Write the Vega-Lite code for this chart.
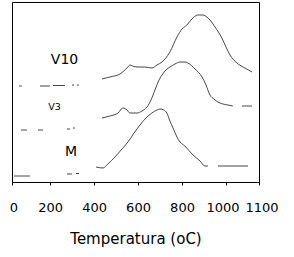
{
  "$schema": "https://vega.github.io/schema/vega-lite/v6.json",
  "width": 247,
  "height": 180,
  "autosize": "none",
  "padding": {"left": 12, "top": 2, "right": 35, "bottom": 75},
  "background": "white",
  "config": {"view": {"stroke": "black", "strokeWidth": 1}, "font": "DejaVu Sans"},
  "datasets": {
    "curves": [
      {"s": "V10", "seg": "V10a", "T": 59, "v": 96}, {"s": "V10", "seg": "V10a", "T": 72, "v": 96},
      {"s": "V10", "seg": "V10b", "T": 154, "v": 96}, {"s": "V10", "seg": "V10b", "T": 200, "v": 96},
      {"s": "V10", "seg": "V10c", "T": 213, "v": 96.5}, {"s": "V10", "seg": "V10c", "T": 268, "v": 96.5},
      {"s": "V10", "seg": "V10d", "T": 300, "v": 97}, {"s": "V10", "seg": "V10d", "T": 309, "v": 97},
      {"s": "V10", "seg": "V10e", "T": 322, "v": 97}, {"s": "V10", "seg": "V10e", "T": 332, "v": 97},
      {"s": "V10", "seg": "V10f", "T": 436, "v": 103},
      {"s": "V10", "seg": "V10f", "T": 472, "v": 105},
      {"s": "V10", "seg": "V10f", "T": 518, "v": 108},
      {"s": "V10", "seg": "V10f", "T": 554, "v": 115},
      {"s": "V10", "seg": "V10f", "T": 563, "v": 117},
      {"s": "V10", "seg": "V10f", "T": 581, "v": 115.5},
      {"s": "V10", "seg": "V10f", "T": 600, "v": 115},
      {"s": "V10", "seg": "V10f", "T": 631, "v": 115},
      {"s": "V10", "seg": "V10f", "T": 663, "v": 114},
      {"s": "V10", "seg": "V10f", "T": 686, "v": 117},
      {"s": "V10", "seg": "V10f", "T": 709, "v": 120},
      {"s": "V10", "seg": "V10f", "T": 745, "v": 130},
      {"s": "V10", "seg": "V10f", "T": 777, "v": 145},
      {"s": "V10", "seg": "V10f", "T": 800, "v": 153},
      {"s": "V10", "seg": "V10f", "T": 822, "v": 157},
      {"s": "V10", "seg": "V10f", "T": 845, "v": 163},
      {"s": "V10", "seg": "V10f", "T": 872, "v": 167},
      {"s": "V10", "seg": "V10f", "T": 895, "v": 167},
      {"s": "V10", "seg": "V10f", "T": 913, "v": 165},
      {"s": "V10", "seg": "V10f", "T": 931, "v": 161},
      {"s": "V10", "seg": "V10f", "T": 950, "v": 155},
      {"s": "V10", "seg": "V10f", "T": 981, "v": 144},
      {"s": "V10", "seg": "V10f", "T": 1000, "v": 135},
      {"s": "V10", "seg": "V10f", "T": 1018, "v": 127},
      {"s": "V10", "seg": "V10f", "T": 1050, "v": 119},
      {"s": "V10", "seg": "V10f", "T": 1086, "v": 114},
      {"s": "V10", "seg": "V10f", "T": 1118, "v": 110},
      {"s": "V3", "seg": "V3a", "T": 68, "v": 52}, {"s": "V3", "seg": "V3a", "T": 95, "v": 52},
      {"s": "V3", "seg": "V3b", "T": 145, "v": 52}, {"s": "V3", "seg": "V3b", "T": 168, "v": 52},
      {"s": "V3", "seg": "V3c", "T": 277, "v": 53}, {"s": "V3", "seg": "V3c", "T": 291, "v": 53},
      {"s": "V3", "seg": "V3d", "T": 304, "v": 54}, {"s": "V3", "seg": "V3d", "T": 313, "v": 54},
      {"s": "V3", "seg": "V3e", "T": 436, "v": 64},
      {"s": "V3", "seg": "V3e", "T": 472, "v": 66},
      {"s": "V3", "seg": "V3e", "T": 509, "v": 69},
      {"s": "V3", "seg": "V3e", "T": 531, "v": 74},
      {"s": "V3", "seg": "V3e", "T": 550, "v": 72},
      {"s": "V3", "seg": "V3e", "T": 563, "v": 69},
      {"s": "V3", "seg": "V3e", "T": 595, "v": 69},
      {"s": "V3", "seg": "V3e", "T": 618, "v": 71},
      {"s": "V3", "seg": "V3e", "T": 641, "v": 75},
      {"s": "V3", "seg": "V3e", "T": 659, "v": 82},
      {"s": "V3", "seg": "V3e", "T": 677, "v": 92},
      {"s": "V3", "seg": "V3e", "T": 691, "v": 100},
      {"s": "V3", "seg": "V3e", "T": 709, "v": 107},
      {"s": "V3", "seg": "V3e", "T": 727, "v": 112},
      {"s": "V3", "seg": "V3e", "T": 745, "v": 115},
      {"s": "V3", "seg": "V3e", "T": 768, "v": 118},
      {"s": "V3", "seg": "V3e", "T": 791, "v": 120},
      {"s": "V3", "seg": "V3e", "T": 813, "v": 120},
      {"s": "V3", "seg": "V3e", "T": 827, "v": 119},
      {"s": "V3", "seg": "V3e", "T": 859, "v": 113},
      {"s": "V3", "seg": "V3e", "T": 891, "v": 105},
      {"s": "V3", "seg": "V3e", "T": 909, "v": 97},
      {"s": "V3", "seg": "V3e", "T": 927, "v": 87},
      {"s": "V3", "seg": "V3e", "T": 945, "v": 83},
      {"s": "V3", "seg": "V3e", "T": 963, "v": 80},
      {"s": "V3", "seg": "V3e", "T": 986, "v": 78},
      {"s": "V3", "seg": "V3e", "T": 1009, "v": 77},
      {"s": "V3", "seg": "V3e", "T": 1031, "v": 76},
      {"s": "V3", "seg": "V3f", "T": 1072, "v": 76}, {"s": "V3", "seg": "V3f", "T": 1118, "v": 76},
      {"s": "M", "seg": "Ma", "T": 36, "v": 6}, {"s": "M", "seg": "Ma", "T": 109, "v": 6},
      {"s": "M", "seg": "Mb", "T": 277, "v": 8}, {"s": "M", "seg": "Mb", "T": 300, "v": 8},
      {"s": "M", "seg": "Mc", "T": 318, "v": 8.5}, {"s": "M", "seg": "Mc", "T": 332, "v": 8.5},
      {"s": "M", "seg": "Md", "T": 409, "v": 15},
      {"s": "M", "seg": "Md", "T": 441, "v": 14},
      {"s": "M", "seg": "Md", "T": 463, "v": 18},
      {"s": "M", "seg": "Md", "T": 495, "v": 25},
      {"s": "M", "seg": "Md", "T": 527, "v": 33},
      {"s": "M", "seg": "Md", "T": 554, "v": 40},
      {"s": "M", "seg": "Md", "T": 582, "v": 49},
      {"s": "M", "seg": "Md", "T": 609, "v": 57},
      {"s": "M", "seg": "Md", "T": 636, "v": 64},
      {"s": "M", "seg": "Md", "T": 663, "v": 69},
      {"s": "M", "seg": "Md", "T": 686, "v": 72},
      {"s": "M", "seg": "Md", "T": 700, "v": 73},
      {"s": "M", "seg": "Md", "T": 718, "v": 72},
      {"s": "M", "seg": "Md", "T": 731, "v": 69},
      {"s": "M", "seg": "Md", "T": 745, "v": 61},
      {"s": "M", "seg": "Md", "T": 759, "v": 54},
      {"s": "M", "seg": "Md", "T": 777, "v": 45},
      {"s": "M", "seg": "Md", "T": 791, "v": 40},
      {"s": "M", "seg": "Md", "T": 813, "v": 36},
      {"s": "M", "seg": "Md", "T": 850, "v": 27},
      {"s": "M", "seg": "Md", "T": 882, "v": 21},
      {"s": "M", "seg": "Md", "T": 904, "v": 16},
      {"s": "M", "seg": "Md", "T": 918, "v": 16},
      {"s": "M", "seg": "Me", "T": 963, "v": 16}, {"s": "M", "seg": "Me", "T": 1100, "v": 16}
    ],
    "labels": [
      {"label": "V10", "T": 266, "v": 122, "size": 14},
      {"label": "V3", "T": 220, "v": 75.5, "size": 9.5},
      {"label": "M", "T": 295, "v": 30, "size": 14}
    ]
  },
  "layer": [
    {
      "data": {"name": "curves"},
      "mark": {"type": "line", "color": "#333333", "strokeWidth": 0.9, "interpolate": "monotone"},
      "encoding": {
        "x": {
          "field": "T", "type": "quantitative",
          "scale": {"domain": [27, 1150], "nice": false, "zero": false},
          "axis": {
            "values": [27, 200, 400, 600, 800, 1000, 1150],
            "labelExpr": "datum.value < 100 ? '0' : (datum.value > 1100 ? '1100' : datum.label)",
            "title": "Temperatura (oC)",
            "titleFont": "DejaVu Sans", "titleFontSize": 15, "titleFontWeight": "normal", "titleColor": "black",
            "titlePadding": 17,
            "labelFont": "DejaVu Sans", "labelFontSize": 13, "labelColor": "black",
            "labelPadding": 16, "labelFlush": false, "labelOverlap": false,
            "labelOffset": {"condition": [
              {"test": "datum.value == 1000", "value": -3.5},
              {"test": "datum.value == 1150", "value": 2.5},
              {"test": "datum.value == 27", "value": 1.5}
            ], "value": 0},
            "tickSize": 3, "tickColor": "black", "domainColor": "black", "grid": false,
            "format": "d"
          }
        },
        "y": {
          "field": "v", "type": "quantitative",
          "scale": {"domain": [0, 180], "nice": false},
          "axis": null
        },
        "detail": {"field": "seg"}
      }
    },
    {
      "data": {"name": "labels"},
      "mark": {"type": "text", "font": "DejaVu Sans", "color": "black", "align": "center", "baseline": "middle"},
      "encoding": {
        "x": {"field": "T", "type": "quantitative"},
        "y": {"field": "v", "type": "quantitative"},
        "text": {"field": "label"},
        "size": {"field": "size", "type": "quantitative", "scale": null}
      }
    }
  ]
}
